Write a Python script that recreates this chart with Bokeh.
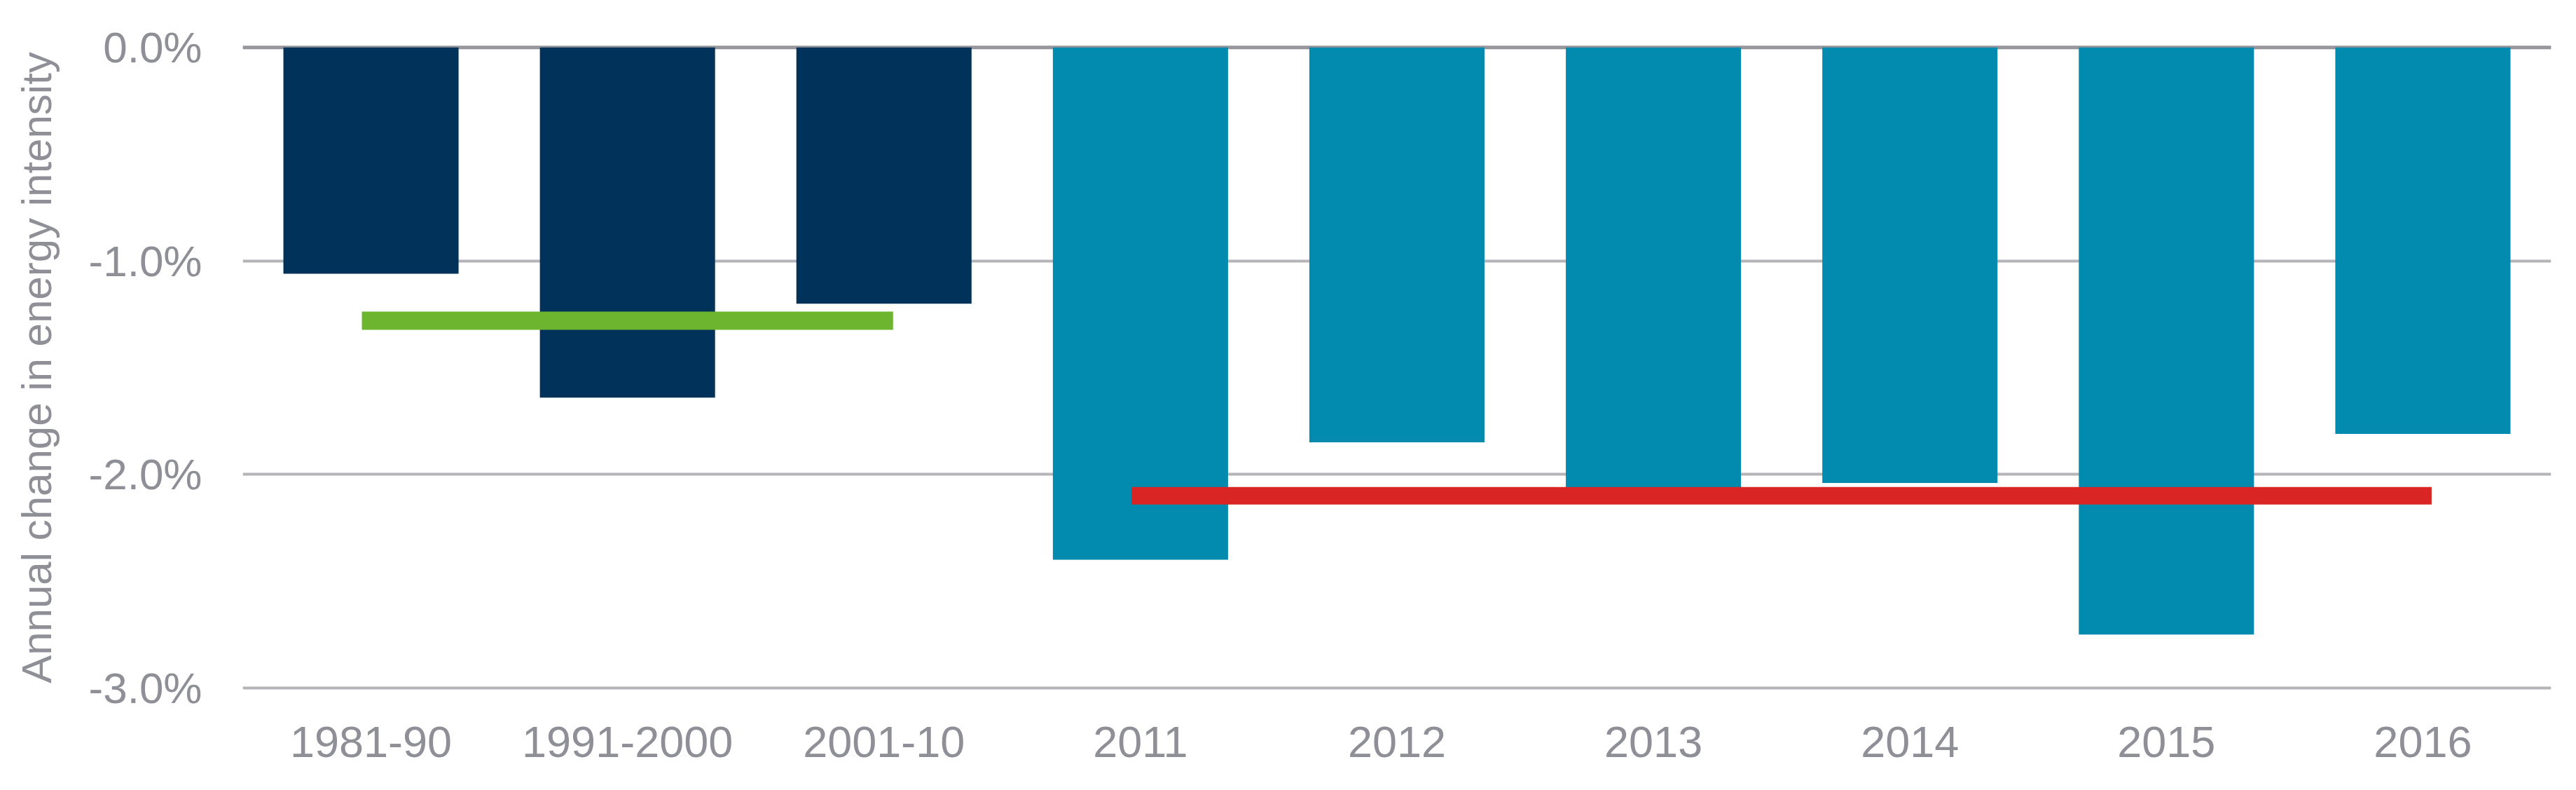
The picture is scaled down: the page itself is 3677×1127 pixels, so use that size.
from bokeh.plotting import figure
from bokeh.models import FactorRange, Range1d, FixedTicker, PrintfTickFormatter, Span, ColumnDataSource
from bokeh.embed import file_html
from bokeh.resources import INLINE

# ---- data ----
categories = ["1981-90", "1991-2000", "2001-10", "2011", "2012", "2013", "2014", "2015", "2016"]
values = [-1.06, -1.64, -1.20, -2.40, -1.85, -2.08, -2.04, -2.75, -1.81]
periods = ["decade", "decade", "decade", "year", "year", "year", "year", "year", "year"]
avg_early_range = ["1981-90", "2001-10"]
avg_early_value = -1.28
avg_recent_range = ["2011", "2016"]
avg_recent_value = -2.10
y_ticks = [-3.0, -2.0, -1.0, 0.0]

colors_by_period = {"decade": "#01335A", "year": "#028BAF"}
bar_colors = [colors_by_period[p] for p in periods]

FONT = "Liberation Sans"
TXT = "#8f9097"

p = figure(
    x_range=FactorRange(*categories, range_padding=0.0),
    y_range=Range1d(-3.03, 0.03),
    frame_width=3295, frame_height=932,
    min_border_left=346, min_border_top=58, min_border_bottom=121, min_border_right=26,
    output_backend="svg", toolbar_location=None,
)
p.outline_line_color = None
p.background_fill_color = "white"

src = ColumnDataSource(dict(x=categories, top=values, color=bar_colors))
p.vbar(x="x", top="top", bottom=0, width=0.683, fill_color="color", line_color=None, source=src)

p.line(x=avg_early_range, y=[avg_early_value] * 2, line_color="#6DB52F", line_width=26, line_cap="square")
p.line(x=avg_recent_range, y=[avg_recent_value] * 2, line_color="#D92624", line_width=25, line_cap="square")

p.add_layout(Span(location=0, dimension="width", line_color="#96969c", line_width=5, level="underlay"))

# grid
p.xgrid.grid_line_color = None
p.ygrid.ticker = FixedTicker(ticks=y_ticks)
p.ygrid.grid_line_color = "#b4b4b9"
p.ygrid.grid_line_width = 4
p.ygrid.level = "underlay"

# y axis
p.yaxis.ticker = FixedTicker(ticks=y_ticks)
p.yaxis.formatter = PrintfTickFormatter(format="%.1f%%")
p.yaxis.axis_label = "Annual change in energy intensity"
p.yaxis.axis_line_color = None
p.yaxis.major_tick_line_color = None
p.yaxis.minor_tick_line_color = None
p.yaxis.major_tick_out = 0
p.yaxis.major_label_standoff = 58
p.yaxis.major_label_text_font = FONT
p.yaxis.major_label_text_font_size = "62px"
p.yaxis.major_label_text_color = TXT
p.yaxis.axis_label_text_font = FONT
p.yaxis.axis_label_text_font_size = "60px"
p.yaxis.axis_label_text_font_style = "normal"
p.yaxis.axis_label_text_color = TXT
p.yaxis.axis_label_standoff = 38

# x axis
p.xaxis.axis_line_color = None
p.xaxis.major_tick_line_color = None
p.xaxis.minor_tick_line_color = None
p.xaxis.major_tick_out = 0
p.xaxis.major_label_standoff = 46
p.xaxis.major_label_text_font = FONT
p.xaxis.major_label_text_font_size = "63px"
p.xaxis.major_label_text_color = TXT

open("out.html", "w").write(file_html(p, INLINE))
